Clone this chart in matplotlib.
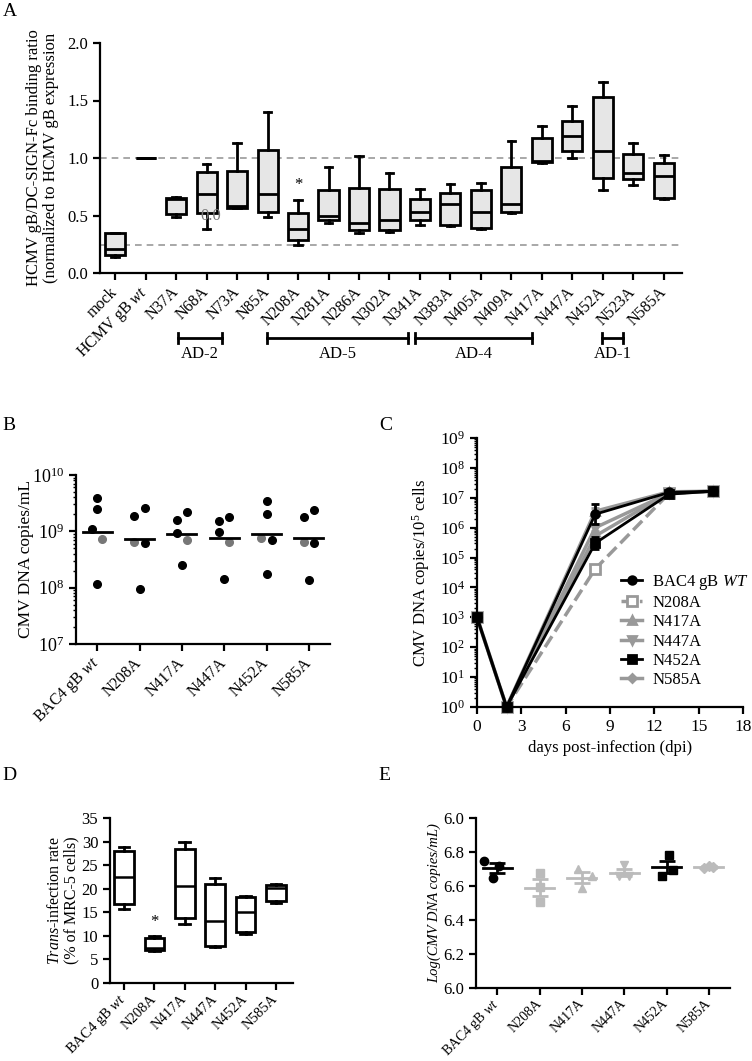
import numpy as np
import matplotlib
matplotlib.use("Agg")
import matplotlib.pyplot as plt
import matplotlib.transforms as mtransforms
from matplotlib.ticker import LogLocator, NullFormatter

plt.rcParams['font.family'] = ['Liberation Serif', 'DejaVu Serif']
plt.rcParams['mathtext.fontset'] = 'custom'
plt.rcParams['mathtext.rm'] = 'Liberation Serif'
plt.rcParams['mathtext.it'] = 'Liberation Serif:italic'
plt.rcParams['mathtext.bf'] = 'Liberation Serif:bold'
plt.rcParams['axes.linewidth'] = 1.6
plt.rcParams['xtick.major.width'] = 1.6
plt.rcParams['ytick.major.width'] = 1.6
plt.rcParams['xtick.major.size'] = 5
plt.rcParams['ytick.major.size'] = 5
plt.rcParams['font.size'] = 11
plt.rcParams['ytick.labelsize'] = 12

# ---- panel A data: five-number summaries (min, q1, median, q3, max)
a_labels = ['mock', r'HCMV gB $\it{wt}$', 'N37A', 'N68A', 'N73A', 'N85A', 'N208A',
            'N281A', 'N286A', 'N302A', 'N341A', 'N383A', 'N405A', 'N409A', 'N417A',
            'N447A', 'N452A', 'N523A', 'N585A']
a_min = [0.136, 1.0, 0.49, 0.383, 0.565, 0.487, 0.241, 0.435, 0.35, 0.354,
         0.417, 0.406, 0.383, 0.522, 0.96, 1.0, 0.719, 0.762, 0.643]
a_q1 = [0.159, 1.0, 0.513, 0.522, 0.565, 0.528, 0.284, 0.458, 0.371, 0.371,
        0.464, 0.414, 0.391, 0.533, 0.962, 1.058, 0.826, 0.817, 0.655]
a_med = [0.209, 1.0, 0.64, 0.687, 0.58, 0.687, 0.383, 0.493, 0.435, 0.464,
         0.528, 0.603, 0.533, 0.603, 0.975, 1.194, 1.058, 0.870, 0.846]
a_q3 = [0.348, 1.0, 0.652, 0.875, 0.884, 1.067, 0.522, 0.725, 0.739, 0.730,
        0.643, 0.696, 0.725, 0.922, 1.177, 1.325, 1.530, 1.038, 0.957]
a_max = [0.35, 1.0, 0.66, 0.951, 1.13, 1.40, 0.632, 0.922, 1.02, 0.870,
         0.730, 0.777, 0.783, 1.148, 1.281, 1.449, 1.664, 1.130, 1.029]
a_ref = [1.0, 0.24]
a_groups = ['AD-2', 'AD-5', 'AD-4', 'AD-1']
a_group_x = [(2.07, 3.51), (4.98, 9.61), (9.84, 13.67), (15.97, 16.66)]

# ---- panel B data (log10 copies/mL), five replicates per virus
bc_labels = [r'BAC4 gB $\it{wt}$', 'N208A', 'N417A', 'N447A', 'N452A', 'N585A']
b_vals = [[9.59, 9.40, 9.05, 8.87, 8.06],
          [9.28, 9.42, 8.81, 8.79, 7.98],
          [9.21, 9.34, 8.97, 8.85, 8.41],
          [9.19, 9.25, 8.99, 8.81, 8.15],
          [9.53, 9.31, 8.88, 8.84, 8.24],
          [9.25, 9.38, 8.81, 8.79, 8.14]]
b_jitter = [[0, 0, -1, 1, 0],
            [-1, 1, -1, 1, 0],
            [-1, 1, -1, 1, 0],
            [-1, 1, -1, 1, 0],
            [0, 0, -1, 1, 0],
            [-1, 1, -1, 1, 0]]
b_gray = [3, 2, 3, 3, 2, 2]

# ---- panel C data (log10 copies per 10^5 cells)
c_days = [0, 2, 8, 13, 16]
c_names = [r'BAC4 gB $\it{WT}$', 'N208A', 'N417A', 'N447A', 'N452A', 'N585A']
c_logs = [[3, 0, 6.45, 7.18, 7.22],
          [3, 0, 4.62, 7.15, 7.22],
          [3, 0, 6.55, 7.20, 7.22],
          [3, 0, 6.00, 7.15, 7.22],
          [3, 0, 5.48, 7.12, 7.22],
          [3, 0, 5.72, 7.17, 7.22]]
c_err = [[0, 0, 0.33, 0, 0],
         [0, 0, 0, 0, 0],
         [0, 0, 0.12, 0, 0],
         [0, 0, 0.1, 0, 0],
         [0, 0, 0.2, 0, 0],
         [0, 0, 0.1, 0, 0]]

# ---- panel D data: five-number summaries
d_min = [15.8, 6.8, 12.6, 7.7, 10.4, 16.9]
d_q1 = [16.75, 7.1, 13.8, 7.9, 10.9, 17.5]
d_med = [22.4, 7.45, 20.6, 13.1, 15.1, 20.1]
d_q3 = [28.1, 9.44, 28.4, 21.0, 18.3, 20.8]
d_max = [28.8, 10.0, 30.0, 22.2, 18.5, 21.1]

# ---- panel E data: log copies/mL, three replicates
e_vals = [[6.75, 6.72, 6.65],
          [6.676, 6.593, 6.504],
          [6.70, 6.66, 6.587],
          [6.725, 6.656, 6.656],
          [6.784, 6.696, 6.656],
          [6.72, 6.709, 6.705]]
e_xoff = [[-0.3, 0.05, -0.1], [0, 0, 0], [-0.1, 0.25, 0.0],
          [0.0, -0.12, 0.12], [0.05, 0.15, -0.1], [0.0, 0.1, -0.12]]
e_yticks = [6.0, 6.2, 6.4, 6.6, 6.8, 7.0]
e_yticklabels = ['6.0', '6.2', '6.4', '6.6', '6.8', '6.0']

W, H = 752, 1061
fig = plt.figure(figsize=(W / 100, H / 100), dpi=100)


def px_axes(l, t, r, b):
    return fig.add_axes([l / W, 1 - b / H, (r - l) / W, (b - t) / H])


def clean(ax):
    ax.spines['top'].set_visible(False)
    ax.spines['right'].set_visible(False)


def rot_labels(ax, labels, size, pad=7):
    ax.set_xticks(range(len(labels)))
    ax.set_xticklabels(labels, rotation=45, ha='right', va='center',
                       rotation_mode='anchor', fontsize=size)
    ax.tick_params(axis='x', pad=pad)


def stats_list(mn, q1, med, q3, mx):
    return [dict(whislo=a, q1=b, med=c, q3=d, whishi=e, fliers=[])
            for a, b, c, d, e in zip(mn, q1, med, q3, mx)]


# ================= A
axA = px_axes(100, 43, 682, 273)
clean(axA)
for r in a_ref:
    axA.axhline(r, color='#999999', ls=(0, (4, 3)), lw=1.2, zorder=0)
pos = np.arange(len(a_labels))
axA.bxp(stats_list(a_min, a_q1, a_med, a_q3, a_max), positions=pos, widths=0.66,
        patch_artist=True, showfliers=False,
        boxprops=dict(facecolor='#e6e6e6', edgecolor='black', linewidth=2),
        medianprops=dict(color='black', linewidth=2),
        whiskerprops=dict(color='black', linewidth=2),
        capprops=dict(color='black', linewidth=2), capwidths=0.25)
axA.set_xlim(-0.5, len(a_labels) - 0.4)
axA.set_ylim(0, 2.0)
axA.set_yticks([0, 0.5, 1.0, 1.5, 2.0])
axA.set_yticklabels(['0.0', '0.5', '1.0', '1.5', '2.0'])
rot_labels(axA, a_labels, 11.5)
axA.set_ylabel('HCMV gB/DC-SIGN-Fc binding ratio\n(normalized to HCMV gB expression',
               linespacing=1.1, fontsize=12)
axA.yaxis.set_label_coords(-0.07, 0.5)
axA.text(6, 0.7, '*', ha='center', va='bottom', fontsize=12)
axA.text(3.15, 0.5, '0.0', ha='center', va='center', color='#777777', fontsize=12)
trA = mtransforms.blended_transform_factory(axA.transData, axA.transAxes)
for name, (x0, x1) in zip(a_groups, a_group_x):
    axA.plot([x0, x1], [-0.283, -0.283], color='black', lw=2, transform=trA, clip_on=False)
    for xe in (x0, x1):
        axA.plot([xe, xe], [-0.26, -0.306], color='black', lw=2, transform=trA, clip_on=False)
    axA.text((x0 + x1) / 2, -0.318, name, ha='center', va='top', transform=trA, fontsize=12)

# ================= B
axB = px_axes(76, 475, 330, 644)
clean(axB)
axB.set_yscale('log')
for i, vals in enumerate(b_vals):
    for j, v in enumerate(vals):
        col = '#777777' if j == b_gray[i] else 'black'
        axB.plot(i + 0.12 * b_jitter[i][j], 10 ** v, 'o', color=col, ms=5.5, clip_on=False)
    gm = 10 ** np.mean(vals)
    axB.plot([i - 0.34, i + 0.34], [gm, gm], color='black', lw=2)
axB.set_xlim(-0.5, 5.5)
axB.set_ylim(1e7, 1e10)
axB.yaxis.set_major_locator(LogLocator(base=10, numticks=10))
axB.yaxis.set_minor_locator(LogLocator(base=10, subs=np.arange(2, 10), numticks=20))
axB.yaxis.set_minor_formatter(NullFormatter())
axB.tick_params(axis='y', which='minor', length=2.5, width=1)
axB.tick_params(axis='y', labelsize=13)
rot_labels(axB, bc_labels, 11.5)
axB.set_ylabel('CMV DNA copies/mL', fontsize=12.5)
axB.yaxis.set_label_coords(-0.165, 0.5)

# ================= C
axC = px_axes(477, 438, 743, 707)
clean(axC)
axC.set_yscale('log')
c_colors = ['black', '#999999', '#999999', '#999999', 'black', '#999999']
c_markers = ['o', 's', '^', 'v', 's', 'D']
c_ls = ['-', '--', '-', '-', '-', '-']
c_lw = [2, 2.5, 2.5, 2.5, 2, 2.5]
for k in range(6):
    lg = np.array(c_logs[k], dtype=float)
    y = 10 ** lg
    e = np.array(c_err[k])
    lo = y - 10 ** (lg - e)
    hi = 10 ** (lg + e) - y
    mfc = 'white' if k == 1 else c_colors[k]
    ms = 6.5 if k == 1 else (4.5 if k == 5 else 5.5)
    axC.errorbar(c_days, y, yerr=[lo, hi], color=c_colors[k], marker=c_markers[k],
                 ls=c_ls[k], lw=c_lw[k], ms=ms, mfc=mfc, mec=c_colors[k], mew=2,
                 capsize=3, elinewidth=2, capthick=2, label=c_names[k], clip_on=False,
                 zorder=3 if k in (0, 4) else 2)
axC.set_xlim(0, 18)
axC.set_ylim(1, 1e9)
axC.set_xticks(range(0, 19, 3))
axC.yaxis.set_major_locator(LogLocator(base=10, numticks=12))
axC.yaxis.set_minor_locator(LogLocator(base=10, subs=np.arange(2, 10), numticks=30))
axC.yaxis.set_minor_formatter(NullFormatter())
axC.tick_params(axis='y', which='minor', length=2.5, width=1)
axC.tick_params(labelsize=12.5)
axC.set_xlabel('days post-infection (dpi)', fontsize=12)
axC.set_ylabel(r'CMV DNA copies/10$^5$ cells', fontsize=12)
axC.yaxis.set_label_coords(-0.17, 0.5)
handles, labs = axC.get_legend_handles_labels()
axC.legend([h[0] for h in handles], labs, loc='upper left',
           bbox_to_anchor=(614 / W, 1 - 566 / H), bbox_transform=fig.transFigure,
           frameon=False, handlelength=1.3, handletextpad=0.6,
           labelspacing=0.2, borderaxespad=0, fontsize=12)

# ================= D
axD = px_axes(110, 818, 293, 983)
clean(axD)
axD.bxp(stats_list(d_min, d_q1, d_med, d_q3, d_max), positions=range(6), widths=0.64,
        patch_artist=True, showfliers=False,
        boxprops=dict(facecolor='white', edgecolor='black', linewidth=2),
        medianprops=dict(color='black', linewidth=1.8),
        whiskerprops=dict(color='black', linewidth=2),
        capprops=dict(color='black', linewidth=2), capwidths=0.35)
axD.set_xlim(-0.46, 5.56)
axD.set_ylim(0, 35)
axD.set_yticks(range(0, 36, 5))
rot_labels(axD, bc_labels, 10.5, pad=5)
axD.text(1, 11.3, '*', ha='center', va='bottom', fontsize=12)
axD.set_ylabel('$\\it{Trans}$-infection rate\n(% of MRC-5 cells)', linespacing=1.1,
               fontsize=11.5)
axD.yaxis.set_label_coords(-0.165, 0.5)

# ================= E
axE = px_axes(476, 818, 730, 988)
clean(axE)
e_colors = ['black', '#bbbbbb', '#bbbbbb', '#bbbbbb', 'black', '#bbbbbb']
e_markers = ['o', 's', '^', 'v', 's', 'D']
for i, vals in enumerate(e_vals):
    xs = [i + o for o in e_xoff[i]]
    axE.plot(xs, vals, e_markers[i], color=e_colors[i], ms=6 if i != 5 else 5,
             ls='none', zorder=2)
    m = np.mean(vals)
    sem = np.std(vals, ddof=1) / np.sqrt(len(vals))
    axE.plot([i - 0.34, i + 0.34], [m, m], color=e_colors[i], lw=2, zorder=3)
    axE.errorbar([i], [m], yerr=[sem], color=e_colors[i], lw=2, capsize=6,
                 capthick=2, zorder=3)
axE.set_xlim(-0.5, 5.5)
axE.set_ylim(6.0, 7.0)
axE.set_yticks(e_yticks)
axE.set_yticklabels(e_yticklabels)
rot_labels(axE, bc_labels, 10, pad=5)
axE.set_ylabel('Log(CMV DNA copies/mL)', style='italic', fontsize=10.5)
axE.yaxis.set_label_coords(-0.138, 0.5)

# panel letters
for lab, x, y in [('A', 10, 12), ('B', 9, 425), ('C', 386, 425), ('D', 9, 776), ('E', 384, 776)]:
    fig.text(x / W, 1 - y / H, lab, fontsize=14, ha='center', va='center')

fig.savefig('out.png', dpi=100)
